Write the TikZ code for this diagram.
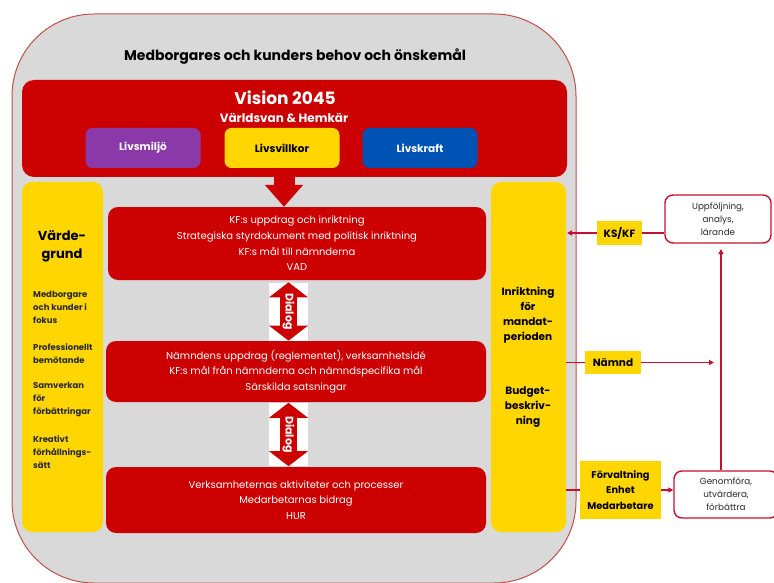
\documentclass[tikz,border=0pt]{standalone}
\usepackage{fontspec}
\setmainfont{Poppins}
\usetikzlibrary{arrows.meta}
\definecolor{bggray}{HTML}{D9D9D9}
\definecolor{vred}{HTML}{CC0000}
\definecolor{vyellow}{HTML}{FFD600}
\definecolor{vpurple}{HTML}{8B38A8}
\definecolor{vblue}{HTML}{0052B4}
\definecolor{frame}{HTML}{C0504D}
\definecolor{lred}{HTML}{C8102E}
\definecolor{dtext}{HTML}{2A2A2A}
\tikzset{
  redbox/.style={fill=vred, rounded corners=10pt, inner sep=0pt, text=white, align=center,
    font=\fontsize{10}{15.6}\selectfont},
  yelcol/.style={fill=vyellow, rounded corners=10pt, inner sep=0pt, align=center},
  tagbox/.style={fill=vyellow, inner sep=0pt, align=center, font=\bfseries\fontsize{10.5}{15}\selectfont},
  whitebox/.style={draw=lred, line width=1.4pt, fill=white, rounded corners=8pt, inner sep=0pt,
    align=center, text=dtext, font=\fontsize{8.8}{13}\selectfont},
  lifebox/.style={rounded corners=7pt, inner sep=0pt, minimum width=115pt, minimum height=40pt,
    font=\bfseries\fontsize{10.5}{12}\selectfont},
  conn/.style={draw=lred, line width=1.3pt},
  connarr/.style={conn, -{Triangle[length=5pt,width=5pt]}},
  listtxt/.style={anchor=north west, inner sep=0pt, align=left, text=dtext,
    font=\bfseries\fontsize{8.5}{13}\selectfont},
  coltxt/.style={align=center, font=\bfseries\fontsize{10.5}{15}\selectfont, inner sep=0pt},
  dialogbg/.style={fill=white, inner sep=0pt, minimum width=39pt, minimum height=58pt},
  dialogarr/.style={draw=vred, line width=17pt,
    {Triangle[width=38pt,length=15pt]}-{Triangle[width=38pt,length=15pt]}},
  dialogtxt/.style={rotate=-90, text=white, font=\bfseries\fontsize{11}{12}\selectfont, inner sep=0pt}
}
\begin{document}
\begin{tikzpicture}[x=1pt,y=-1pt]
\useasboundingbox (0,0) rectangle (774,583);
% outer frame
\draw[draw=frame, line width=1pt, fill=bggray, rounded corners=82pt] (12,14) rectangle (576,583);
\node[font=\bfseries\fontsize{14}{16}\selectfont] (title) at (295,57) {Medborgares och kunders behov och önskemål};
% vision
\node[fill=vred, rounded corners=12pt, minimum width=545pt, minimum height=97pt, inner sep=0pt] (vision) at (294.5,128.5) {};
\node[text=white, font=\bfseries\fontsize{17}{19}\selectfont] (vtitle) at (285,98) {Vision 2045};
\node[text=white, font=\bfseries\fontsize{12}{14}\selectfont] (vsub) at (284,118) {Världsvan \& Hemkär};
\node[lifebox, fill=vpurple, text=white] (miljo) at (143,148) {Livsmiljö};
\node[lifebox, fill=vyellow, text=black] (villkor) at (282,148) {Livsvillkor};
\node[lifebox, fill=vblue, text=white] (kraft) at (420,148) {Livskraft};
% columns
\node[yelcol, minimum width=81pt, minimum height=350pt] (leftcol) at (62.5,357) {};
\node[yelcol, minimum width=75pt, minimum height=350pt] (rightcol) at (528.5,357) {};
\node[align=center, font=\bfseries\fontsize{13}{18}\selectfont, inner sep=0pt] (vg) at (62,246) {Värde-\\grund};
\node[listtxt] (l1) at (33,291) {Medborgare\\och kunder i\\fokus};
\node[listtxt] (l2) at (33,343) {Professionellt\\bemötande};
\node[listtxt] (l3) at (33,382) {Samverkan\\för\\förbättringar};
\node[listtxt] (l4) at (33,435) {Kreativt\\förhållnings-\\sätt};
\node[coltxt] (ink) at (528,315) {Inriktning\\för\\mandat-\\perioden};
\node[coltxt] (bud) at (528,407) {Budget-\\beskriv-\\ning};
% red boxes
\node[redbox, minimum width=378pt, minimum height=73pt] (b1) at (297,243.5)
  {KF:s uppdrag och inriktning\\Strategiska styrdokument med politisk inriktning\\KF:s mål till nämnderna\\VAD};
\node[redbox, minimum width=380pt, minimum height=61pt] (b2) at (296,371.5)
  {Nämndens uppdrag (reglementet), verksamhetsidé\\KF:s mål från nämnderna och nämndspecifika mål\\Särskilda satsningar};
\node[redbox, minimum width=380pt, minimum height=66pt] (b3) at (296,500)
  {Verksamheternas aktiviteter och processer\\Medarbetarnas bidrag\\HUR};
% down arrow
\coordinate (arrx) at (284,0);
\draw[draw=vred, line width=21pt, -{Triangle[width=37pt,length=22pt]}] (arrx |- vision.south) -- (arrx |- b1.north);
% dialog arrows
\node[dialogbg] (d1) at (288.5,311.5) {};
\draw[dialogarr] (d1.north) -- (d1.south);
\node[dialogtxt] (d1t) at (d1.center) {Dialog};
\node[dialogbg, minimum height=63pt] (d2) at (288.5,434.5) {};
\draw[dialogarr] (d2.north) -- (d2.south);
\node[dialogtxt] (d2t) at (d2.center) {Dialog};
% right side
\node[tagbox, minimum width=45pt, minimum height=24pt] (kskf) at (619.5,233) {KS/KF};
\node[tagbox, minimum width=56pt, minimum height=23pt] (namnd) at (613,362.5) {Nämnd};
\node[tagbox, minimum width=81pt, minimum height=58pt, font=\bfseries\fontsize{9.8}{15.5}\selectfont] (forv) at (620.5,490) {Förvaltning\\Enhet\\Medarbetare};
\node[whitebox, minimum width=106pt, minimum height=48pt] (upp) at (718,219) {Uppföljning,\\analys,\\lärande};
\node[whitebox, minimum width=104pt, minimum height=47pt] (gen) at (726,494.5) {Genomföra,\\utvärdera,\\förbättra};
\coordinate (kstip) at (567,233);
\coordinate (nleft) at (566,362.5);
\coordinate (ntip) at (714,362.5);
\coordinate (fleft) at (566,490);
\coordinate (uptip) at (721,249);
\draw[connarr] (kskf.west) -- (kstip);
\draw[conn] (upp.west |- kskf.east) -- (kskf.east);
\draw[conn] (nleft) -- (namnd.west);
\draw[connarr] (namnd.east) -- (ntip);
\draw[conn] (fleft) -- (forv.west);
\draw[connarr] (forv.east) -- (gen.west |- forv.east);
\draw[connarr] (uptip |- gen.north) -- (uptip);
\end{tikzpicture}
\end{document}
